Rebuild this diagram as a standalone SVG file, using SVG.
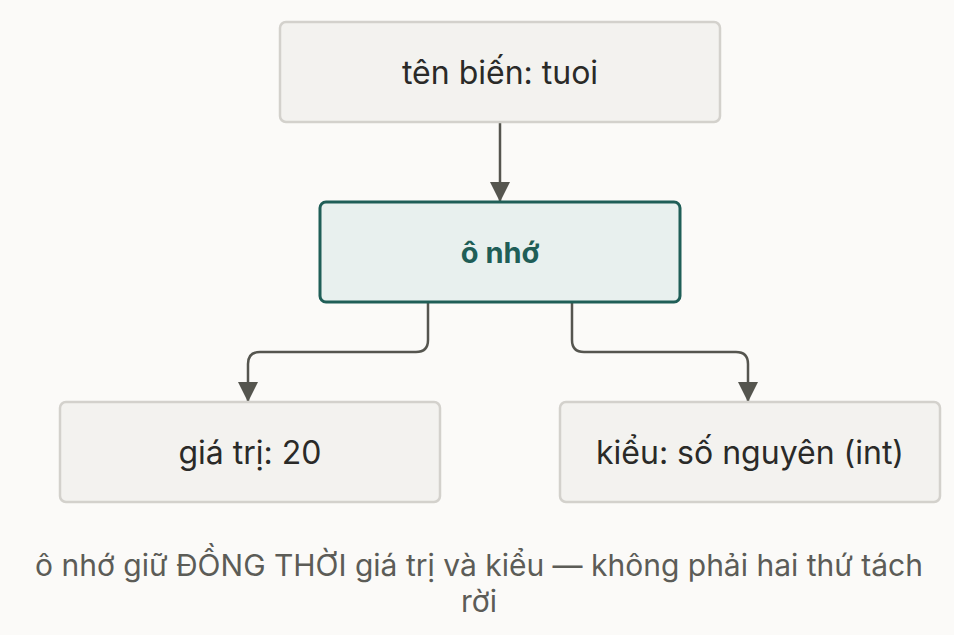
<svg xmlns="http://www.w3.org/2000/svg" width="954" height="635" viewBox="0 0 954 635">
<style>
.box{fill:#f3f2ef;stroke:#d3d1cc;stroke-width:2.5}
.hl{fill:#e8f0ee;stroke:#1f5e57;stroke-width:3}
.t{font-family:Inter,"Noto Sans",sans-serif;font-size:32px;fill:#2a2a28;text-anchor:middle;dominant-baseline:central}
.c{fill:none;stroke:#55554f;stroke-width:2.5}
.cap{font-family:Inter,"Noto Sans",sans-serif;font-size:30px;fill:#5c5c57;text-anchor:middle}
</style>
<defs><marker id="b" viewBox="0 0 10 10" refX="10" refY="5" markerWidth="8" markerHeight="8" orient="auto"><path d="M0,0L10,5L0,10z" fill="#55554f"/></marker></defs>
<rect width="954" height="635" fill="#fbfaf8"/>
<g id="connectors">
<path class="c" d="M500,122V202" marker-end="url(#b)"/>
<path class="c" d="M428,302V340Q428,352 416,352H260Q248,352 248,364V402" marker-end="url(#b)"/>
<path class="c" d="M572,302V340Q572,352 584,352H736Q748,352 748,364V402" marker-end="url(#b)"/>
</g>
<g id="n1"><rect class="box" x="280" y="22" width="440" height="100" rx="6"/><text class="t" x="500" y="72">tên biến: tuoi</text></g>
<g id="n2"><rect class="hl" x="320" y="202" width="360" height="100" rx="6"/><text class="t" x="500" y="252" style="font-weight:700;fill:#1f5e57;font-size:29px">ô nhớ</text></g>
<g id="n3"><rect class="box" x="60" y="402" width="380" height="100" rx="6"/><text class="t" x="250" y="452">giá trị: 20</text></g>
<g id="n4"><rect class="box" x="560" y="402" width="380" height="100" rx="6"/><text class="t" x="750" y="452">kiểu: số nguyên (int)</text></g>
<text class="cap" x="479" y="576">ô nhớ giữ ĐỒNG THỜI giá trị và kiểu — không phải hai thứ tách</text>
<text class="cap" x="479" y="612">rời</text>
</svg>
